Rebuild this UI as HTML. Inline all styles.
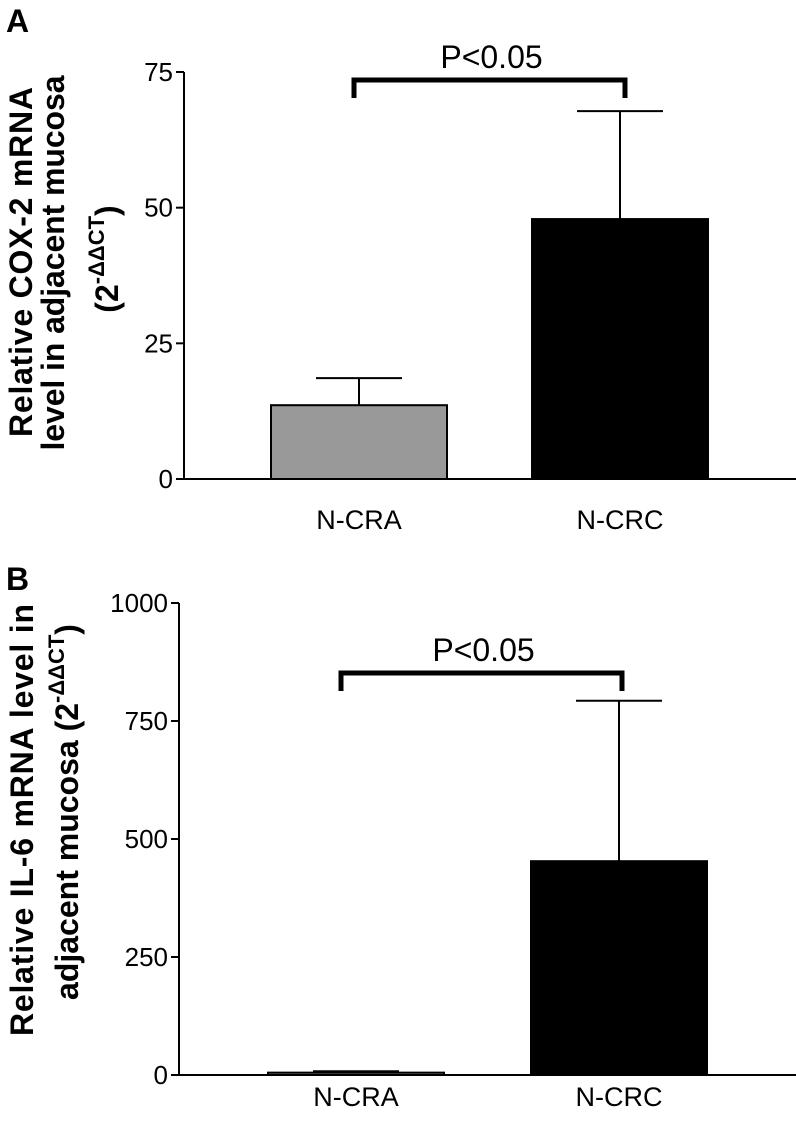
<!DOCTYPE html>
<html><head><meta charset="utf-8"><style>
body{margin:0;background:#fff}
svg{display:block}
.tick{font-family:"Liberation Sans",sans-serif;font-size:26px;fill:#000}
.cat{font-family:"Liberation Sans",sans-serif;font-size:27px;fill:#000}
.ttl{font-family:"Liberation Sans",sans-serif;font-weight:bold;font-size:32px;fill:#000}
.pl{font-family:"Liberation Sans",sans-serif;font-weight:bold;font-size:32px;fill:#000}
</style></head><body>
<svg id="fig" width="796" height="1121">
<text class="pl" x="6" y="32">A</text>
<text class="pl" x="6" y="590">B</text>
<text class="ttl" transform="translate(32,262) rotate(-90)" text-anchor="middle" textLength="350">Relative COX-2 mRNA</text>
<text class="ttl" transform="translate(64,263) rotate(-90)" text-anchor="middle" textLength="375">level in adjacent mucosa</text>
<text class="ttl" transform="translate(118,259) rotate(-90)" text-anchor="middle">(2<tspan font-size="22" dy="-14">-ΔΔCT</tspan><tspan dy="14">)</tspan></text>
<text class="ttl" transform="translate(33,820) rotate(-90)" text-anchor="middle" textLength="432">Relative IL-6 mRNA level in</text>
<text class="ttl" transform="translate(78,812) rotate(-90)" text-anchor="middle">adjacent mucosa (2<tspan font-size="22" dy="-14">-ΔΔCT</tspan><tspan dy="14">)</tspan></text>
</svg>
<script>
const categories = ["N-CRA", "N-CRC"];
const meansA = [13.6, 47.9];
const errA = [18.6, 67.8];
const ticksA = [0, 25, 50, 75];
const meansB = [5, 453];
const errB = [8, 793];
const ticksB = [0, 250, 500, 750, 1000];
const colors = ["#999999", "#000000"];
const NS = "http://www.w3.org/2000/svg";
const svg = document.getElementById('fig');
function mk(tag, attrs, parent) {
  const e = document.createElementNS(NS, tag);
  for (const k in attrs) e.setAttribute(k, attrs[k]);
  (parent || svg).appendChild(e);
  return e;
}
function panel(p, means, errs, ticks) {
  const y = v => p.y0 - (v - ticks[0]) / (ticks[ticks.length - 1] - ticks[0]) * (p.y0 - p.y1);
  const g = mk('g', {});
  
  
  const ax = mk('line', {x1: p.ax, x2: p.ax, y1: y(ticks[ticks.length - 1]), y2: p.y0, stroke: '#000', 'stroke-width': 2}, g);
  
  
  ticks.forEach(t => {
    const tl = mk('line', {x1: p.ax - 8, x2: p.ax, y1: y(t), y2: y(t), stroke: '#000', 'stroke-width': 2}, g);
    
    
    const tx = mk('text', {x: p.ax - 11, y: y(t) + 9, 'text-anchor': 'end', class: 'tick'}, g);
    tx.textContent = t;
    
    
  });
  categories.forEach((c, i) => {
    const cx = p.cx[i];
    const bw = 176;
    const top = y(means[i]);
    const eb = y(errs[i]);
    const el = mk('line', {x1: cx, x2: cx, y1: eb, y2: top, stroke: '#000', 'stroke-width': 2}, g);
    
    
    const ec = mk('line', {x1: cx - 43, x2: cx + 43, y1: eb, y2: eb, stroke: '#000', 'stroke-width': 2}, g);
    
    
    const r = mk('rect', {x: cx - bw / 2, y: top, width: bw, height: p.y0 - top, fill: colors[i], stroke: '#000', 'stroke-width': 2}, g);
    
    
    const lb = mk('text', {x: cx, y: p.y0 + p.lo, 'text-anchor': 'middle', class: 'cat'}, g);
    lb.textContent = c;
    
    
  });
  const xa = mk('line', {x1: p.ax, x2: 796, y1: p.y0, y2: p.y0, stroke: '#000', 'stroke-width': 2}, g);
  
  
  const br = mk('path', {d: `M${p.bx1},${p.by + 18} V${p.by} H${p.bx2} V${p.by + 18}`, fill: 'none', stroke: '#000', 'stroke-width': 5}, g);
  
  
  const pt = mk('text', {x: (p.bx1 + p.bx2) / 2 + 2, y: p.by - 12, 'text-anchor': 'middle', class: 'cat'}, g);
  pt.style.fontSize = '32px';
  pt.textContent = 'P<0.05';
  
  
}
panel({id: 'a', ax: 184, y0: 479, y1: 72, cx: [359, 620], bx1: 354, bx2: 625, by: 80, lo: 50}, meansA, errA, ticksA);
panel({id: 'b', ax: 179, y0: 1075, y1: 603, cx: [356, 619], bx1: 341, bx2: 622, by: 673, lo: 31}, meansB, errB, ticksB);
</script>
</body></html>
